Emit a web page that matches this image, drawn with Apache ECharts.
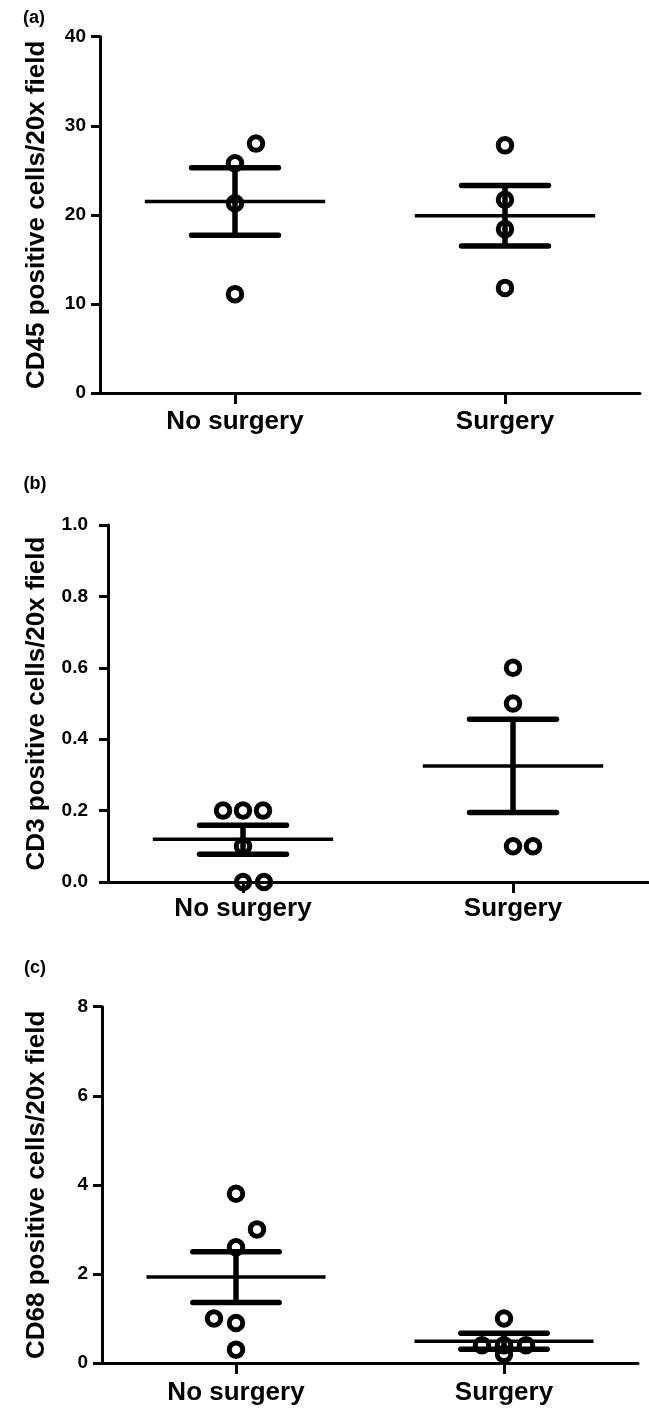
<!DOCTYPE html>
<html>
<head>
<meta charset="utf-8">
<script src="https://cdn.jsdelivr.net/npm/echarts@6/dist/echarts.min.js"></script>
<style>
html,body{margin:0;padding:0;background:#fff;}
#chart{width:649px;height:1408px;}
</style>
</head>
<body>
<div id="chart"></div>
<script>
// ---------- data ----------
const categories = ['No surgery', 'Surgery'];
const panelLabels = ['(a)', '(b)', '(c)'];
const yTitles = ['CD45 positive cells/20x field', 'CD3 positive cells/20x field', 'CD68 positive cells/20x field'];

// Panel (a) CD45
const cd45NoSurgery = [28.0, 25.8, 21.3, 11.1];
const cd45Surgery   = [27.8, 21.7, 18.4, 11.8];
const cd45Mean    = [21.5, 19.9];
const cd45SemLow  = [17.7, 16.5];
const cd45SemHigh = [25.3, 23.3];
const cd45Ticks = [0, 10, 20, 30, 40];

// Panel (b) CD3
const cd3NoSurgery = [0.2, 0.2, 0.2, 0.1, 0.0, 0.0];
const cd3Surgery   = [0.6, 0.5, 0.1, 0.1];
const cd3Mean    = [0.12, 0.325];
const cd3SemLow  = [0.078, 0.195];
const cd3SemHigh = [0.159, 0.456];
const cd3Ticks = ['0.0', '0.2', '0.4', '0.6', '0.8', '1.0'];

// Panel (c) CD68
const cd68NoSurgery = [3.8, 3.0, 2.6, 1.0, 0.9, 0.3];
const cd68Surgery   = [1.0, 0.4, 0.4, 0.4, 0.2];
const cd68Mean    = [1.93, 0.49];
const cd68SemLow  = [1.36, 0.31];
const cd68SemHigh = [2.5, 0.67];
const cd68Ticks = [0, 2, 4, 6, 8];

// ---------- style / layout (jitter offsets in px) ----------
const jitter = {
  cd45NoSurgery: [21, 0, 0, 0],
  cd45Surgery: [0, 0, 0, 0],
  cd3NoSurgery: [-20, 0, 20, 0, 0, 21],
  cd3Surgery: [0, 0, 0, 20],
  cd68NoSurgery: [0, 21, 0, -22, 0, 0],
  cd68Surgery: [0, -22, 0, 22, 0]
};

const FONT = '"Liberation Sans", Arial, Helvetica, sans-serif';
const grids = [
  {left: 100, top: 36.7, width: 540, height: 356.3},
  {left: 108, top: 525, width: 540, height: 357},
  {left: 102, top: 1006.7, width: 536, height: 356.3}
];
const nameGaps = [50, 58, 52];
const labelMargins = [14, 20, 14];
const xLabelMargins = [16, 14, 17];

const panels = [
  {groups: [cd45NoSurgery, cd45Surgery], jit: [jitter.cd45NoSurgery, jitter.cd45Surgery],
   mean: cd45Mean, lo: cd45SemLow, hi: cd45SemHigh, ticks: cd45Ticks, fmt: v => String(v)},
  {groups: [cd3NoSurgery, cd3Surgery], jit: [jitter.cd3NoSurgery, jitter.cd3Surgery],
   mean: cd3Mean, lo: cd3SemLow, hi: cd3SemHigh, ticks: cd3Ticks.map(Number), fmt: v => v.toFixed(1)},
  {groups: [cd68NoSurgery, cd68Surgery], jit: [jitter.cd68NoSurgery, jitter.cd68Surgery],
   mean: cd68Mean, lo: cd68SemLow, hi: cd68SemHigh, ticks: cd68Ticks, fmt: v => String(v)}
];

const xAxes = [], yAxes = [], series = [];
panels.forEach((p, gi) => {
  const tmin = p.ticks[0], tmax = p.ticks[p.ticks.length - 1];
  const step = p.ticks[1] - p.ticks[0];
  xAxes.push({
    type: 'category', gridIndex: gi, data: categories, boundaryGap: true,
    axisLine: {show: true, lineStyle: {color: '#000', width: 3}},
    axisTick: {show: true, alignWithLabel: true, length: 11, lineStyle: {color: '#000', width: 3}},
    axisLabel: {interval: 0, color: '#000', fontFamily: FONT, fontWeight: 'bold', fontSize: 26, margin: xLabelMargins[gi]},
    splitLine: {show: false}
  });
  yAxes.push({
    type: 'value', gridIndex: gi, min: tmin, max: tmax, interval: step,
    axisLine: {show: true, lineStyle: {color: '#000', width: 3}},
    axisTick: {show: true, length: 9, lineStyle: {color: '#000', width: 3}},
    axisLabel: {color: '#000', fontFamily: FONT, fontWeight: 'bold', fontSize: 19, margin: labelMargins[gi],
      formatter: p.fmt},
    splitLine: {show: false},
    name: yTitles[gi], nameLocation: 'middle', nameGap: nameGaps[gi],
    nameTextStyle: {color: '#000', fontFamily: FONT, fontWeight: 'bold', fontSize: 26}
  });
  // mean + SEM
  series.push({
    type: 'custom', xAxisIndex: gi, yAxisIndex: gi, z: 2, silent: true,
    encode: {x: 0, y: [1, 2, 3]},
    data: categories.map((c, i) => [i, p.mean[i], p.lo[i], p.hi[i]]),
    renderItem: function (params, api) {
      const x = api.value(0);
      const m = api.coord([x, api.value(1)]);
      const lo = api.coord([x, api.value(2)]);
      const hi = api.coord([x, api.value(3)]);
      const band = api.size([1, 0])[0];
      const mw = band * 0.334, cw = band * 0.161;
      const capStyle = {stroke: '#000', lineWidth: 5.5, lineCap: 'round'};
      return {type: 'group', children: [
        {type: 'line', shape: {x1: m[0] - mw, y1: m[1], x2: m[0] + mw, y2: m[1]}, style: {stroke: '#000', lineWidth: 3.5}},
        {type: 'line', shape: {x1: m[0], y1: lo[1], x2: m[0], y2: hi[1]}, style: {stroke: '#000', lineWidth: 5.5}},
        {type: 'line', shape: {x1: m[0] - cw, y1: hi[1], x2: m[0] + cw, y2: hi[1]}, style: capStyle},
        {type: 'line', shape: {x1: m[0] - cw, y1: lo[1], x2: m[0] + cw, y2: lo[1]}, style: capStyle}
      ]};
    }
  });
  // points
  p.groups.forEach((vals, ci) => {
    series.push({
      type: 'scatter', xAxisIndex: gi, yAxisIndex: gi, z: 3, silent: true,
      symbol: 'circle', symbolSize: 13.5,
      itemStyle: {color: 'rgba(0,0,0,0)', borderColor: '#000', borderWidth: 5, opacity: 1},
      data: vals.map((v, k) => ({value: [ci, v], symbolOffset: [p.jit[ci][k], 0]}))
    });
  });
});

const labelPos = [[34, 18.5], [35, 484], [35, 968]];
const graphic = panelLabels.map((t, i) => ({
  type: 'text', x: labelPos[i][0], y: labelPos[i][1],
  style: {text: t, fill: '#000', font: 'bold 18px ' + FONT, textAlign: 'center', textVerticalAlign: 'middle'}
}));

const chart = echarts.init(document.getElementById('chart'), null, {renderer: 'canvas'});
chart.setOption({
  backgroundColor: '#fff',
  animation: false,
  grid: grids,
  xAxis: xAxes,
  yAxis: yAxes,
  series: series,
  graphic: graphic
});
</script>
</body>
</html>
